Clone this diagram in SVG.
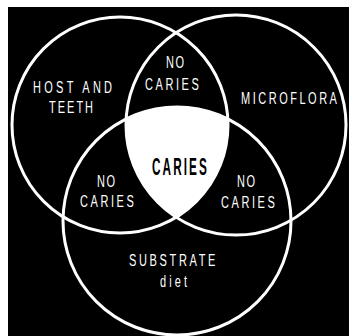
<svg xmlns="http://www.w3.org/2000/svg" width="349" height="336" viewBox="0 0 349 336">
<style>
.ring{fill:none;stroke:#fff;stroke-width:3}
.lbl{font-family:"Liberation Sans",Arial,sans-serif;font-size:17px;fill:#fff}
.mid{font-family:"Liberation Sans",Arial,sans-serif;font-size:23.5px;font-weight:bold;fill:#000}
</style>
<defs>
<clipPath id="clipL"><circle cx="120" cy="125" r="108"/></clipPath>
<clipPath id="clipR"><circle cx="236" cy="125" r="110"/></clipPath>
</defs>
<rect x="0" y="0" width="349" height="336" fill="#fff"/>
<rect x="8" y="7" width="341" height="329" fill="#000"/>
<g id="caries">
<g clip-path="url(#clipL)"><g clip-path="url(#clipR)"><circle cx="177" cy="221" r="114" fill="#fff"/></g></g>
<text class="mid" transform="translate(152,175) scale(0.5,1)" letter-spacing="4.2">CARIES</text>
</g>
<g id="host">
<circle class="ring" cx="120" cy="125" r="108"/>
<text class="lbl" transform="translate(33,93) scale(0.647,1)" letter-spacing="5.1">HOST AND</text>
<text class="lbl" transform="translate(49,113) scale(0.647,1)" letter-spacing="3.1">TEETH</text>
</g>
<g id="microflora">
<circle class="ring" cx="236" cy="125" r="110"/>
<text class="lbl" transform="translate(241,104) scale(0.647,1)" letter-spacing="3.9">MICROFLORA</text>
</g>
<g id="substrate">
<circle class="ring" cx="177" cy="221" r="114"/>
<text class="lbl" transform="translate(129,266) scale(0.647,1)" letter-spacing="4.1">SUBSTRATE</text>
<text class="lbl" transform="translate(160,287) scale(0.647,1)" letter-spacing="4.8">diet</text>
</g>
<g id="nocaries-top">
<text class="lbl" transform="translate(166,68) scale(0.647,1)" letter-spacing="2.3">NO</text>
<text class="lbl" transform="translate(145,90) scale(0.647,1)" letter-spacing="4">CARIES</text>
</g>
<g id="nocaries-left">
<text class="lbl" transform="translate(97,187) scale(0.647,1)" letter-spacing="2.3">NO</text>
<text class="lbl" transform="translate(80,207) scale(0.647,1)" letter-spacing="4">CARIES</text>
</g>
<g id="nocaries-right">
<text class="lbl" transform="translate(237,187) scale(0.647,1)" letter-spacing="2.3">NO</text>
<text class="lbl" transform="translate(221,208) scale(0.647,1)" letter-spacing="4">CARIES</text>
</g>
<g id="connectors"/>
</svg>
